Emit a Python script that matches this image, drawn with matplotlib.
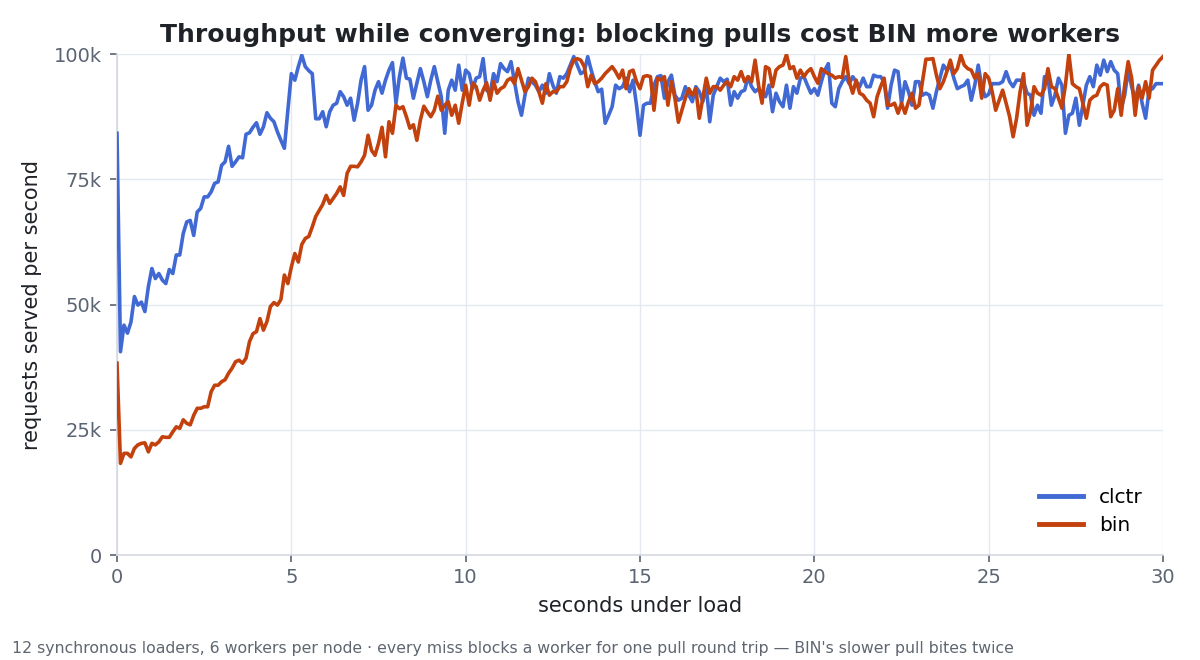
import numpy as np
import matplotlib
matplotlib.use("Agg")
import matplotlib.pyplot as plt
from matplotlib.ticker import FuncFormatter, MultipleLocator

# seconds under load, 0.0 .. 30.0 in 0.1 s steps
seconds = [round(i * 0.1, 1) for i in range(301)]

# requests served per second (thousands)
clctr_k = [
    84.2, 40.6, 45.9, 44.3, 46.5, 51.6, 49.9, 50.5, 48.6, 53.6,
    57.2, 55.2, 56.2, 54.9, 54.2, 57.0, 56.2, 59.9, 59.9, 64.2,
    66.5, 66.8, 63.8, 68.5, 69.2, 71.5, 71.5, 72.5, 74.2, 74.5,
    77.8, 78.5, 81.6, 77.6, 78.5, 79.5, 79.3, 84.0, 84.3, 85.4,
    86.3, 84.0, 85.5, 88.3, 87.2, 86.5, 84.5, 82.8, 81.2, 88.8,
    96.1, 94.8, 97.5, 99.8, 97.5, 96.7, 96.1, 87.1, 87.1, 88.5,
    85.5, 88.5, 89.8, 90.2, 92.5, 91.5, 89.8, 91.2, 86.8, 90.2,
    94.8, 97.5, 88.8, 89.8, 92.8, 94.5, 92.2, 94.8, 96.8, 98.3,
    90.2, 95.5, 99.2, 95.2, 95.0, 91.2, 94.2, 97.1, 94.5, 91.5,
    94.8, 97.5, 94.5, 91.5, 84.2, 92.8, 94.8, 92.8, 97.8, 92.8,
    96.8, 96.1, 93.1, 95.2, 95.5, 99.1, 92.8, 92.2, 96.1, 94.5,
    98.1, 97.1, 96.5, 98.5, 94.5, 90.5, 87.8, 91.8, 95.2, 94.5,
    93.8, 92.5, 93.8, 92.2, 96.1, 93.8, 92.2, 95.5, 95.2, 96.1,
    97.8, 99.5, 97.8, 96.1, 96.5, 99.5, 96.8, 94.5, 92.5, 93.0,
    86.2, 87.8, 89.5, 93.8, 93.1, 93.5, 95.2, 92.5, 94.8, 89.8,
    83.8, 89.8, 90.2, 90.2, 93.8, 95.5, 95.7, 91.2, 94.5, 95.8,
    91.8, 90.8, 91.2, 93.5, 91.8, 90.5, 93.5, 92.5, 90.5, 93.5,
    86.5, 91.8, 93.5, 95.2, 94.5, 95.0, 89.8, 92.5, 91.2, 92.5,
    92.8, 95.5, 93.5, 92.5, 93.1, 92.2, 91.5, 93.8, 88.5, 92.2,
    90.5, 89.5, 93.8, 89.2, 93.5, 92.2, 95.2, 95.5, 93.8, 92.2,
    93.1, 91.8, 94.5, 96.8, 98.1, 90.2, 89.5, 93.1, 94.5, 95.5,
    94.1, 95.5, 94.5, 93.5, 95.2, 93.5, 93.5, 95.8, 95.5, 95.5,
    94.5, 89.2, 93.8, 96.8, 96.5, 90.2, 94.5, 92.5, 89.8, 94.5,
    94.5, 91.8, 92.2, 91.8, 89.2, 92.5, 95.2, 97.8, 96.8, 97.8,
    95.2, 93.1, 93.5, 93.8, 94.8, 90.8, 93.8, 97.8, 93.5, 91.5,
    92.0, 94.1, 94.1, 94.1, 94.5, 96.5, 94.5, 93.5, 94.8, 94.8,
    94.5, 92.2, 91.8, 87.8, 89.8, 88.2, 95.5, 95.2, 89.8, 91.8,
    95.2, 93.8, 84.2, 87.8, 88.2, 91.2, 85.8, 89.8, 93.8, 95.5,
    93.5, 97.8, 95.8, 98.8, 96.5, 98.5, 96.8, 96.1, 89.2, 91.8,
    96.8, 93.5, 90.8, 93.8, 90.2, 87.2, 92.8, 93.1, 94.1, 94.1,
    94.1,
]

bin_k = [
    38.3, 18.3, 20.3, 20.3, 19.6, 21.3, 22.0, 22.3, 22.4, 20.6,
    22.3, 22.0, 22.6, 23.6, 23.5, 23.5, 24.6, 25.6, 25.3, 27.0,
    26.3, 26.0, 27.9, 29.3, 29.3, 29.6, 29.6, 32.6, 33.9, 33.9,
    34.6, 35.0, 36.3, 37.3, 38.6, 38.9, 38.3, 39.3, 42.6, 44.2,
    44.6, 47.2, 44.9, 46.6, 49.6, 50.4, 49.9, 51.0, 55.9, 54.2,
    57.5, 60.2, 58.5, 62.0, 63.2, 63.6, 65.5, 67.6, 68.8, 70.0,
    71.8, 70.2, 71.2, 72.2, 73.5, 71.8, 76.2, 77.6, 77.6, 77.5,
    78.5, 79.8, 83.8, 80.8, 79.8, 82.2, 85.4, 79.5, 86.5, 84.2,
    89.8, 89.1, 89.5, 87.5, 85.2, 85.9, 82.8, 86.8, 89.6, 88.5,
    87.5, 88.8, 91.6, 88.8, 89.8, 90.5, 87.8, 89.8, 86.2, 90.2,
    93.8, 89.8, 94.2, 93.5, 90.8, 92.8, 94.3, 90.8, 94.5, 92.2,
    93.1, 93.5, 94.8, 95.2, 94.1, 97.1, 94.8, 92.5, 93.5, 95.2,
    94.5, 92.5, 90.2, 94.1, 91.8, 92.5, 92.5, 93.5, 93.5, 94.5,
    97.1, 98.8, 99.1, 98.8, 97.5, 93.5, 95.8, 94.1, 94.5, 95.2,
    96.1, 96.8, 97.5, 96.5, 95.2, 96.8, 93.1, 96.5, 96.8, 94.5,
    93.1, 95.5, 95.7, 95.5, 88.8, 95.2, 94.8, 95.5, 89.8, 94.5,
    91.2, 86.4, 88.8, 91.2, 93.1, 91.8, 93.1, 87.2, 91.2, 95.2,
    92.2, 93.5, 93.5, 92.8, 93.8, 94.5, 93.5, 95.5, 94.8, 96.5,
    94.5, 95.5, 94.5, 98.8, 93.8, 90.2, 97.5, 97.1, 93.5, 96.8,
    97.5, 97.8, 99.9, 97.1, 97.5, 95.2, 96.8, 95.5, 96.5, 97.1,
    95.5, 94.2, 97.1, 96.5, 96.1, 95.8, 95.2, 95.5, 95.3, 99.5,
    94.5, 92.2, 94.8, 92.2, 91.8, 90.8, 90.2, 87.5, 91.5, 93.5,
    95.2, 89.8, 89.8, 90.2, 88.2, 90.2, 88.2, 90.5, 92.2, 89.2,
    89.8, 94.5, 99.0, 99.0, 99.1, 95.8, 93.1, 94.5, 96.5, 98.8,
    96.1, 97.1, 99.8, 97.8, 97.1, 96.8, 95.2, 96.1, 91.2, 96.1,
    95.2, 92.5, 88.8, 90.8, 92.8, 90.2, 87.5, 83.5, 87.2, 92.5,
    96.1, 85.8, 88.5, 93.5, 92.2, 91.8, 93.1, 97.1, 93.5, 93.1,
    91.2, 89.2, 93.8, 100.0, 94.1, 93.5, 93.1, 90.2, 87.2, 90.8,
    91.5, 91.8, 93.5, 94.1, 93.8, 87.5, 88.8, 93.1, 87.8, 93.8,
    98.5, 95.2, 87.8, 93.5, 91.2, 94.5, 91.2, 96.8, 97.8, 98.8,
    99.5,
]

series_names = ["clctr", "bin"]
series_colors = ["#4169d4", "#c2410c"]

title = "Throughput while converging: blocking pulls cost BIN more workers"
x_label = "seconds under load"
y_label = "requests served per second"
footer = ("12 synchronous loaders, 6 workers per node \u00b7 every miss blocks a worker "
          "for one pull round trip \u2014 BIN's slower pull bites twice")

plt.rcParams['font.family'] = ['DejaVu Sans']

fig = plt.figure(figsize=(12, 6.6), dpi=100)
ax = fig.add_axes([0.0975, 0.159, 0.8717, 0.759])

for name, vals, col in zip(series_names, [clctr_k, bin_k], series_colors):
    ax.plot(seconds, [v * 1000 for v in vals], color=col, lw=2.6, label=name,
            solid_joinstyle='round', zorder=3)

ax.set_xlim(0, 30)
ax.set_ylim(0, 100000)
ax.xaxis.set_major_locator(MultipleLocator(5))
ax.yaxis.set_major_locator(MultipleLocator(25000))
ax.yaxis.set_major_formatter(FuncFormatter(lambda v, p: "0" if v == 0 else f"{int(v/1000)}k"))

ax.grid(True, color="#e4e8ef", lw=1, zorder=0)
for s in ["top", "right"]:
    ax.spines[s].set_visible(False)
for s in ["left", "bottom"]:
    ax.spines[s].set_color("#d5dae1")
    ax.spines[s].set_linewidth(1.2)
ax.tick_params(axis='both', colors="#5b6472", labelsize=14, length=5, width=1.2,
               labelcolor="#5b6472")
ax.tick_params(axis='x', pad=4)
ax.tick_params(axis='y', pad=6)

ax.set_xlabel(x_label, fontsize=15, color="#1f2328", labelpad=7)
ax.set_ylabel(y_label, fontsize=15, color="#1f2328", labelpad=8)
ax.set_title(title, fontsize=18, fontweight='bold', color="#1f2328", pad=9)

leg = ax.legend(loc='lower right', frameon=False, fontsize=14.5, handlelength=2.2,
                borderaxespad=0.6, labelspacing=0.45)
for line in leg.get_lines():
    line.set_linewidth(3.5)

fig.text(0.01, 0.006, footer, fontsize=11.35, color="#5f6670", ha='left', va='bottom')

fig.savefig("out.png", dpi=100, facecolor="white")
